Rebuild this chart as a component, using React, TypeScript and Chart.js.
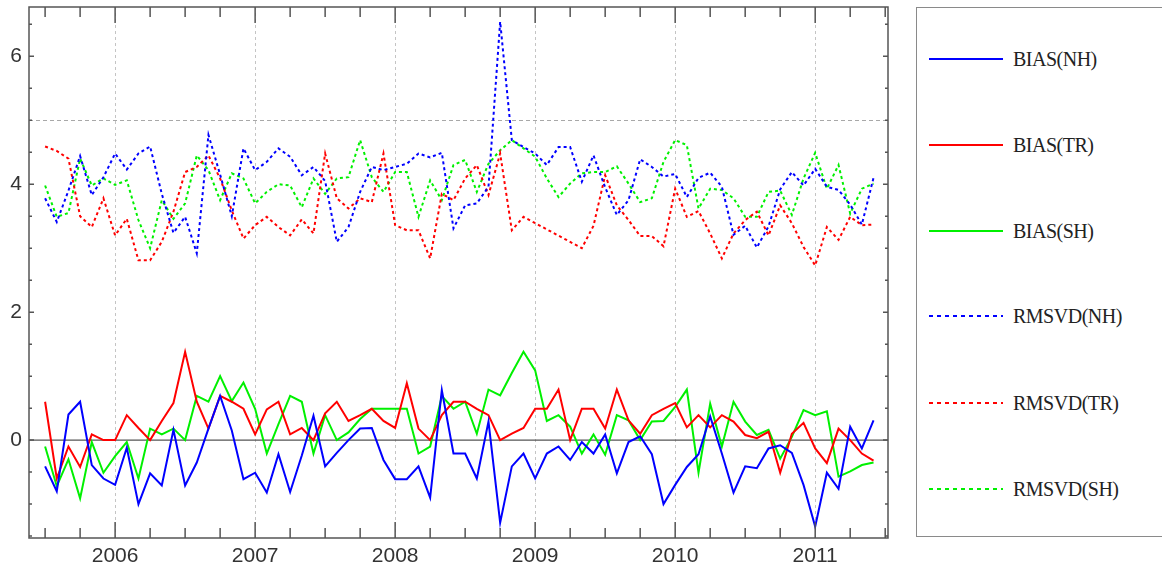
import { useEffect, useRef } from 'react'
import Chart from 'chart.js/auto'

// monthly series, Jul 2005 .. Jun 2011
const START_YEAR = 2005.5
const MONTHS = 72

const BIAS_NH = [
  -0.41, -0.8, 0.4, 0.6, -0.39, -0.6, -0.7, -0.12, -1.0, -0.52, -0.71, 0.16,
  -0.71, -0.35, 0.18, 0.69, 0.15, -0.61, -0.51, -0.82, -0.22, -0.81, -0.24, 0.38,
  -0.41, -0.2, 0.0, 0.18, 0.19, -0.31, -0.61, -0.61, -0.41, -0.9, 0.78, -0.21,
  -0.21, -0.6, 0.29, -1.29, -0.41, -0.21, -0.6, -0.21, -0.1, -0.31, -0.03, -0.21,
  0.09, -0.52, -0.03, 0.06, -0.22, -1.0, -0.7, -0.42, -0.22, 0.37, -0.21, -0.82,
  -0.41, -0.44, -0.13, -0.08, -0.2, -0.7, -1.35, -0.51, -0.76, 0.21, -0.13, 0.31
]
const BIAS_TR = [
  0.6, -0.6, -0.1, -0.42, 0.09, 0.0, 0.0, 0.39, 0.19, 0.0, 0.3, 0.58,
  1.38, 0.6, 0.18, 0.69, 0.6, 0.49, 0.09, 0.48, 0.6, 0.09, 0.19, 0.0,
  0.42, 0.6, 0.3, 0.39, 0.49, 0.3, 0.19, 0.89, 0.18, 0.0, 0.39, 0.6,
  0.6, 0.49, 0.39, 0.0, 0.1, 0.19, 0.49, 0.49, 0.79, 0.0, 0.49, 0.49,
  0.18, 0.79, 0.31, 0.1, 0.39, 0.49, 0.58, 0.2, 0.39, 0.2, 0.39, 0.29,
  0.08, 0.03, 0.13, -0.51, 0.1, 0.27, -0.13, -0.36, 0.18, 0.0, -0.21, -0.32
]
const BIAS_SH = [
  -0.1, -0.72, -0.3, -0.91, -0.03, -0.51, -0.25, -0.03, -0.6, 0.18, 0.09, 0.18,
  0.0, 0.69, 0.6, 1.0, 0.61, 0.9, 0.49, -0.21, 0.25, 0.69, 0.6, -0.21,
  0.39, 0.0, 0.12, 0.33, 0.49, 0.49, 0.49, 0.49, -0.21, -0.1, 0.69, 0.49,
  0.6, 0.1, 0.79, 0.7, 1.05, 1.38, 1.09, 0.3, 0.39, 0.21, -0.21, 0.09,
  -0.23, 0.39, 0.31, 0.0, 0.29, 0.3, 0.52, 0.79, -0.51, 0.57, -0.1, 0.6,
  0.29, 0.08, 0.16, -0.29, 0.05, 0.47, 0.39, 0.45, -0.57, -0.49, -0.39, -0.35
]
const RMSVD_NH = [
  3.78, 3.41, 3.9, 4.44, 3.83, 4.11, 4.48, 4.23, 4.48, 4.59, 3.85, 3.24,
  3.49, 2.92, 4.77, 4.15, 3.5, 4.56, 4.22, 4.35, 4.56, 4.43, 4.14, 4.27,
  4.05, 3.1, 3.33, 3.88, 4.27, 4.22, 4.27, 4.32, 4.48, 4.42, 4.49, 3.31,
  3.67, 3.7, 3.96, 6.54, 4.69, 4.58, 4.48, 4.3, 4.58, 4.58, 4.04, 4.45,
  3.95, 3.52, 3.75, 4.39, 4.27, 4.12, 4.16, 3.8, 4.1, 4.18, 3.96, 3.21,
  3.35, 3.01, 3.34, 3.92, 4.19, 3.98, 4.24, 3.96, 3.91, 3.68, 3.37, 4.1
]
const RMSVD_TR = [
  4.59, 4.52, 4.4, 3.5, 3.33, 3.78, 3.2, 3.46, 2.81, 2.81, 3.1, 3.57,
  4.19, 4.27, 4.45, 4.09, 3.59, 3.15, 3.36, 3.49, 3.33, 3.2, 3.45, 3.23,
  4.48, 3.78, 3.62, 3.78, 3.72, 4.48, 3.36, 3.28, 3.28, 2.84, 3.85, 3.75,
  4.09, 4.3, 3.83, 4.48, 3.28, 3.49, null, null, null, null, 3.0, 3.35,
  4.14, 3.67, 3.44, 3.19, 3.19, 3.03, 3.93, 3.49, 3.58, 3.23, 2.84, 3.23,
  3.44, 3.57, 3.2, 3.67, 3.39, 3.02, 2.73, 3.33, 3.13, 3.49, 3.36, 3.37
]
const RMSVD_SH = [
  3.98, 3.49, 3.55, 4.4, 3.98, 4.09, 3.99, 4.06, 3.44, 3.0, 3.75, 3.46,
  3.7, 4.45, 4.22, 3.75, 4.17, 4.09, 3.7, 3.88, 4.0, 3.98, 3.64, 4.09,
  3.85, 4.09, 4.11, 4.69, 4.11, 3.88, 4.19, 4.19, 3.49, 4.06, 3.75, 4.3,
  4.38, 3.88, 4.32, 4.53, 4.69, 4.56, 4.43, 4.09, 3.8, 4.01, 4.17, 4.19,
  4.19, 4.28, 4.01, 3.72, 3.78, 4.35, 4.69, 4.61, 3.62, 3.93, 3.91, 3.78,
  3.49, 3.49, 3.88, 3.9, 3.52, 4.09, 4.49, 3.93, 4.3, 3.54, 3.93, 4.01
]

const YEAR_TICKS = [2006, 2007, 2008, 2009, 2010, 2011]
const Y_TICKS = [0, 2, 4, 6]
const Y_GRID = 5

const SERIES = [
  { label: 'BIAS(NH)', data: BIAS_NH, color: '#0000ff', dashed: false },
  { label: 'BIAS(TR)', data: BIAS_TR, color: '#ff0000', dashed: false },
  { label: 'BIAS(SH)', data: BIAS_SH, color: '#00f000', dashed: false },
  { label: 'RMSVD(NH)', data: RMSVD_NH, color: '#0000ff', dashed: true },
  { label: 'RMSVD(TR)', data: RMSVD_TR, color: '#ff0000', dashed: true },
  { label: 'RMSVD(SH)', data: RMSVD_SH, color: '#00f000', dashed: true }
]

const X_MIN = 2005.385
const X_MAX = 2011.52
const Y_MIN = -1.53
const Y_MAX = 6.77

const framePlugin = {
  id: 'frame',
  beforeDatasetsDraw(chart: any) {
    const { ctx, chartArea: a, scales } = chart
    const x = scales.x
    const y = scales.y
    ctx.save()
    ctx.lineWidth = 1
    ctx.setLineDash([3, 3])
    ctx.strokeStyle = '#c4c4c4'
    YEAR_TICKS.forEach((v) => {
      const px = Math.round(x.getPixelForValue(v)) + 0.5
      ctx.beginPath()
      ctx.moveTo(px, a.top)
      ctx.lineTo(px, a.bottom)
      ctx.stroke()
    })
    ctx.strokeStyle = '#a8a8a8'
    ctx.setLineDash([4, 3])
    const p5 = Math.round(y.getPixelForValue(Y_GRID)) + 0.5
    ctx.beginPath()
    ctx.moveTo(a.left, p5)
    ctx.lineTo(a.right, p5)
    ctx.stroke()
    ctx.setLineDash([])
    ctx.strokeStyle = '#555'
    ctx.lineWidth = 1.2
    const p0 = y.getPixelForValue(0)
    ctx.beginPath()
    ctx.moveTo(a.left, p0)
    ctx.lineTo(a.right, p0)
    ctx.stroke()
    ctx.restore()
  },
  afterDatasetsDraw(chart: any) {
    const { ctx, chartArea: a, scales } = chart
    const x = scales.x
    const y = scales.y
    ctx.save()
    ctx.strokeStyle = '#555'
    ctx.lineWidth = 1.5
    ctx.strokeRect(a.left, a.top, a.right - a.left, a.bottom - a.top)
    // quarter ticks, inward, top and bottom
    for (let q = START_YEAR; q <= X_MAX; q += 0.25) {
      const px = x.getPixelForValue(q)
      const len = Number.isInteger(q) ? 16 : 10
      ctx.beginPath()
      ctx.moveTo(px, a.bottom)
      ctx.lineTo(px, a.bottom - len)
      ctx.moveTo(px, a.top)
      ctx.lineTo(px, a.top + len)
      ctx.stroke()
    }
    // half-unit ticks, inward, left and right
    for (let v = -1.5; v <= Y_MAX; v += 0.5) {
      const py = y.getPixelForValue(v)
      const len = v % 2 === 0 ? 5 : 3
      ctx.beginPath()
      ctx.moveTo(a.left, py)
      ctx.lineTo(a.left + len, py)
      ctx.moveTo(a.right, py)
      ctx.lineTo(a.right - len, py)
      ctx.stroke()
    }
    ctx.restore()
  }
}

function LegendSample({ color, dashed }: { color: string; dashed: boolean }) {
  return (
    <svg width="76" height="6" style={{ display: 'block' }}>
      <line
        x1="0" y1="3" x2="74" y2="3"
        stroke={color}
        strokeWidth="2"
        strokeDasharray={dashed ? '4 4' : undefined}
      />
    </svg>
  )
}

export default function App() {
  const canvasRef = useRef<HTMLCanvasElement>(null)

  useEffect(() => {
    if (!canvasRef.current) return
    const ctx = canvasRef.current.getContext('2d')
    if (!ctx) return

    const xs = Array.from({ length: MONTHS }, (_, i) => START_YEAR + i / 12)

    const chart = new Chart(ctx, {
      type: 'line',
      data: {
        datasets: SERIES.map((s) => ({
          label: s.label,
          data: s.data.map((v, i) => ({ x: xs[i], y: v })) as any,
          borderColor: s.color,
          borderWidth: 2,
          borderDash: s.dashed ? [3, 3] : [],
          pointRadius: 0,
          tension: 0,
          fill: false,
          spanGaps: true
        }))
      },
      options: {
        responsive: false,
        animation: false,
        layout: { padding: { top: 7, right: 12, left: 0, bottom: 0 } },
        plugins: {
          legend: { display: false },
          tooltip: { enabled: false }
        },
        scales: {
          x: {
            type: 'linear',
            min: X_MIN,
            max: X_MAX,
            afterBuildTicks: (s: any) => {
              s.ticks = YEAR_TICKS.map((v) => ({ value: v }))
            },
            afterFit: (s: any) => {
              s.height = 30
              s.paddingLeft = 0
              s.paddingRight = 0
            },
            grid: { display: false, drawTicks: false },
            border: { display: false },
            ticks: {
              autoSkip: false,
              maxRotation: 0,
              padding: 6,
              color: '#333',
              font: { family: 'Liberation Sans', size: 21 },
              callback: (v: any) => String(v)
            }
          },
          y: {
            type: 'linear',
            min: Y_MIN,
            max: Y_MAX,
            afterBuildTicks: (s: any) => {
              s.ticks = Y_TICKS.map((v) => ({ value: v }))
            },
            afterFit: (s: any) => {
              s.width = 29
              s.paddingTop = 0
              s.paddingBottom = 0
            },
            grid: { display: false, drawTicks: false },
            border: { display: false },
            ticks: {
              padding: 7,
              color: '#333',
              font: { family: 'Liberation Sans', size: 21 },
              callback: (v: any) => String(v)
            }
          }
        }
      },
      plugins: [framePlugin]
    })

    return () => chart.destroy()
  }, [])

  const rowTop = [51, 137, 223, 308, 395, 481]

  return (
    <div style={{ position: 'fixed', left: 0, top: 0, width: 1162, height: 568, background: '#fff', overflow: 'hidden' }}>
      <canvas ref={canvasRef} width={900} height={568} style={{ position: 'absolute', left: 0, top: 0 }} />
      <div
        style={{
          position: 'absolute',
          left: 916,
          top: 7,
          width: 270,
          height: 530,
          border: '1.5px solid #8a8a8a',
          boxSizing: 'border-box'
        }}
      >
        {SERIES.map((s, i) => (
          <div
            key={s.label}
            style={{ position: 'absolute', left: 12, top: rowTop[i] - 3, display: 'flex', alignItems: 'center', height: 6 }}
          >
            <LegendSample color={s.color} dashed={s.dashed} />
            <span
              style={{
                marginLeft: 8,
                fontFamily: '"Liberation Serif", serif',
                fontSize: 20,
                color: '#222',
                whiteSpace: 'nowrap',
                lineHeight: '20px',
                letterSpacing: '-0.5px'
              }}
            >
              {s.label}
            </span>
          </div>
        ))}
      </div>
    </div>
  )
}
